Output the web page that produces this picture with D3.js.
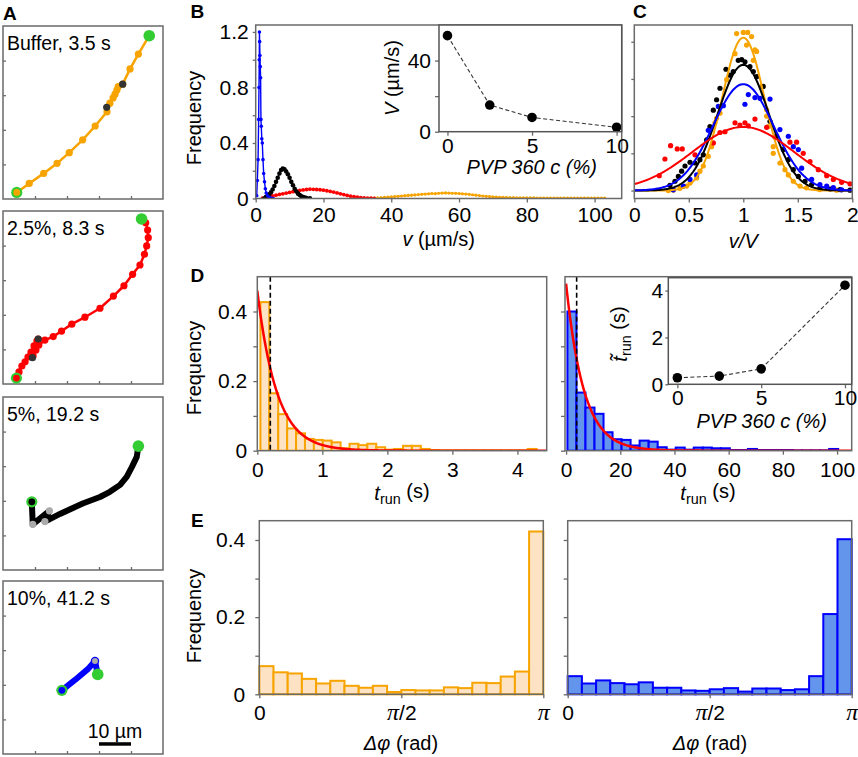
<!DOCTYPE html>
<html><head><meta charset="utf-8">
<script src="https://cdn.jsdelivr.net/npm/d3@7/dist/d3.min.js"></script>
<style>
html,body{margin:0;padding:0;background:#fff;}
svg text{font-family:"Liberation Sans",Arial,Helvetica,sans-serif;fill:#000;}
</style></head><body>
<svg id="fig" width="858" height="757" xmlns="http://www.w3.org/2000/svg"></svg>
<script>
// ================= DATA =================
// Panel A: trajectories (µm)
const trajLabels = ["Buffer, 3.5 s", "2.5%, 8.3 s", "5%, 19.2 s", "10%, 41.2 s"];
const trajBuffer = [[4.3,1.9],[8.2,4.5],[12.7,7.4],[16.9,10.3],[20.7,13.4],[24.9,17.1],[28.8,21.1],[32.5,25.2],[33.4,27.7],[34.4,29.2],[35.0,30.3],[35.6,31.5],[36.0,32.5],[37.4,33.2],[39.7,37.6],[42.3,41.9],[45.7,47.2]];
const markBuffer = [[32.4,26.5],[37.4,33.2]];
const traj25 = [[4.2,1.7],[5.0,3.5],[5.9,5.2],[6.9,6.4],[7.8,7.8],[8.75,9.2],[9.7,11.0],[10.6,12.4],[11.0,13.0],[10.2,10.8],[9.4,8.1],[10.3,9.8],[11.2,11.3],[13.1,12.7],[15.7,13.7],[18.3,15.3],[21.5,17.3],[25.6,19.3],[30.3,21.9],[34.5,25.4],[37.8,28.4],[40.5,31.7],[42.8,34.4],[44.2,37.5],[44.9,39.9],[45.4,42.3],[45.2,44.5],[44.6,46.6],[43.3,47.7]];
const mark25 = [[11.0,13.0],[9.2,7.6]];
const traj5 = [[9.0,19.7],[9.3,13.2],[14.5,17.1],[13.1,14.0],[17.8,16.2],[21.5,17.8],[25.1,19.3],[30.3,21.1],[33.4,22.6],[36.6,24.6],[38.7,27.0],[40.3,29.8],[41.8,32.7],[42.3,35.8]];
const mark5 = [[9.3,13.2],[14.5,17.1],[13.1,14.0]];
const traj10 = [[18.4,18.4],[22.5,21.4],[26.6,24.6],[28.75,26.9],[29.6,23.0]];
const mark10 = [[28.75,26.9]];
const aTicks = [10,20,30,40];
const scaleBarUm = [30,40];

// Panel B: speed distributions [v (µm/s), frequency]
const bBlue = [[0.3,0.02],[0.48,0.13],[0.7,0.28],[0.87,0.57],[0.97,0.80],[1.05,1.0],[1.1,1.2],[1.17,1.13],[1.25,1.03],[1.35,0.95],[1.45,0.87],[1.55,0.57],[1.65,0.52],[1.8,0.43],[1.95,0.40],[2.15,0.28],[2.35,0.18],[2.6,0.12],[2.85,0.07],[3.1,0.04],[3.5,0.02],[4.0,0.008],[4.6,0.003],[5.2,0]];
const bBlack = [[2.5,0],[3,0.01],[3.5,0.02],[4,0.03],[4.5,0.045],[5,0.065],[5.5,0.09],[6,0.12],[6.5,0.15],[7,0.18],[7.5,0.205],[8,0.215],[8.5,0.21],[9,0.195],[9.5,0.175],[10,0.15],[10.5,0.12],[11,0.095],[11.5,0.07],[12,0.05],[12.5,0.035],[13,0.025],[13.5,0.015],[14,0.01],[14.5,0.006],[15,0.003],[16,0.001]];
const bRed = [[2,0.002],[3,0.006],[4,0.012],[5,0.018],[6,0.024],[7,0.029],[8,0.034],[9,0.039],[10,0.044],[11,0.049],[12,0.054],[13,0.058],[14,0.062],[15,0.065],[16,0.067],[17,0.066],[18,0.065],[19,0.063],[20,0.06],[21,0.056],[22,0.051],[23,0.046],[24,0.04],[25,0.034],[26,0.028],[27,0.022],[28,0.017],[29,0.013],[30,0.009],[31,0.006],[32,0.004],[33,0.003],[34,0.002],[35,0.001]];
const bOrange = [[34,.002],[35,.003],[36,.004],[37,.006],[38,.008],[39,.010],[40,.012],[41,.014],[42,.016],[43,.018],[44,.020],[45,.022],[46,.024],[47,.026],[48,.028],[49,.030],[50,.032],[51,.034],[52,.036],[53,.035],[54,.038],[55,.039],[56,.040],[57,.039],[58,.038],[59,.037],[60,.036],[61,.034],[62,.032],[63,.030],[64,.027],[65,.024],[66,.021],[67,.018],[68,.016],[69,.014],[70,.012],[71,.010],[72,.009],[73,.008],[74,.007],[75,.006],[76,.006],[77,.005],[78,.005],[79,.004],[80,.004],[81,.004],[82,.004],[83,.003],[84,.003],[85,.003],[86,.003],[87,.003],[88,.003],[89,.002],[90,.002],[91,.002],[92,.002],[93,.002],[94,.002],[95,.002],[96,.002],[97,.002],[98,.002],[99,.002],[100,.002],[101,.002],[102,.002],[103,.002]];
const bXTicks = [0,20,40,60,80,100];
const bYTicks = [0,0.2,0.4,0.6,0.8,1.0,1.2];
const bYLabels = [0,0.4,0.8,1.2];
// Panel B inset
const pvp = [0,2.5,5,10];
const meanSpeed = [54,15,8,2.5];

// Panel C: normalized v/V distributions
const cNames = ["orange","black","blue","red"];
const cPeak = [2.055,1.69,1.43,0.855];
const cSigma = [0.194,0.236,0.279,0.467];
const cOrange = [[0.312,0],[0.358,0.005],[0.419,0.03],[0.48,0.06],[0.511,0.10],[0.572,0.17],[0.602,0.26],[0.633,0.33],[0.679,0.46],[0.709,0.59],[0.740,0.91],[0.755,0.97],[0.786,1.04],[0.847,1.49],[0.924,1.84],[0.939,2.11],[1.0,2.125],[1.04,2.125],[1.076,2.07],[1.03,1.955],[1.107,1.89],[1.122,1.87],[1.092,1.75],[1.168,1.40],[1.214,1.085],[1.214,1.0],[1.229,0.86],[1.275,0.59],[1.275,0.50],[1.336,0.37],[1.382,0.28],[1.413,0.21],[1.459,0.125],[1.52,0.06],[1.58,0.036],[1.70,0.013],[1.856,0.005]];
const cBlack = [[0.327,0.07],[0.373,0.125],[0.404,0.19],[0.434,0.26],[0.465,0.33],[0.511,0.38],[0.557,0.37],[0.602,0.415],[0.633,0.48],[0.664,0.68],[0.694,0.86],[0.725,1.08],[0.755,1.22],[0.786,1.375],[0.841,1.63],[0.878,1.55],[0.908,1.60],[0.954,1.75],[0.985,1.76],[1.015,1.73],[1.061,1.665],[1.092,1.60],[1.122,1.53],[1.183,1.40],[1.245,0.93],[1.306,0.73],[1.367,0.55],[1.413,0.415],[1.459,0.28],[1.505,0.19],[1.566,0.125],[1.627,0.08],[1.703,0.036],[1.795,0.02],[1.887,0.013],[1.979,0.005]];
const cBlue = [[0.358,0.01],[0.45,0.06],[0.511,0.15],[0.572,0.21],[0.679,0.81],[0.771,1.13],[0.817,1.14],[1.015,1.16],[1.046,1.29],[1.107,1.25],[1.153,1.24],[1.245,1.23],[1.336,0.82],[1.413,0.73],[1.459,0.59],[1.505,0.55],[1.535,0.30],[1.627,0.15],[1.703,0.08],[1.765,0.06],[1.826,0.04],[1.902,0.01]];
const cRed = [[0.229,0.20],[0.281,0.424],[0.333,0.603],[0.394,0.56],[0.44,0.56],[0.557,0.48],[0.725,0.64],[0.786,0.78],[0.832,0.79],[0.924,0.91],[0.969,0.88],[1.015,0.91],[1.046,0.87],[1.107,0.96],[1.214,0.85],[1.291,0.72],[1.428,0.65],[1.489,0.65],[1.55,0.50],[1.612,0.39],[1.688,0.28],[1.765,0.20],[1.826,0.15],[1.902,0.11],[1.979,0.09]];
const cXTicks = [0,0.5,1,1.5,2];
const cXLabels = ["0","0.5","1","1.5","2"];

// Panel D: run-time histograms
const dLeftStart = 0.048, dLeftWidth = 0.137;
const dLeft = [0.427,0.165,0.105,0.064,0.050,0.034,0.031,0.029,0.024,0.007,0.020,0.016,0.020,0.010,0.003,0.005,0.014,0.014,0.005,0.002,0.001,0.001,0.001,0.001,0.001,0.001,0.001,0.001,0.001,0.001,0.005];
const dRightStart = 0.5, dRightWidth = 3.33;
const dRight = [0.40,0.167,0.124,0.106,0.053,0.033,0.031,0.015,0.029,0.026,0.010,0.003,0.009,0.003,0.009,0.009,0.007,0.007,0.002,0.002,0.005,0.002,0.002,0.002,0.002,0.001,0.001,0.001,0.001,0.005];
const dFitAmp = [0.46,0.48];
const dFitTau = [0.30,6.5];
const dMedian = [0.2,3.9];
const dLeftXTicks = [0,1,2,3,4];
const dRightXTicks = [0,20,40,60,80,100];
const dYTicks = [0,0.1,0.2,0.3,0.4];
const dYLabels = [0,0.2,0.4];
// Panel D inset
const medianRun = [0.28,0.35,0.66,4.23];

// Panel E: turning-angle histograms (20 bins on [0, π])
const eLeft = [0.073,0.057,0.054,0.040,0.028,0.035,0.022,0.017,0.022,0.006,0.011,0.010,0.010,0.018,0.016,0.030,0.029,0.046,0.059,0.422];
const eRight = [0.047,0.028,0.036,0.029,0.026,0.031,0.017,0.017,0.010,0.009,0.013,0.016,0.007,0.015,0.015,0.011,0.013,0.047,0.208,0.402];
const eXTicks = [0, Math.PI/2, Math.PI];
const eXLabels = ["0","π/2","π"];
const eYTicks = [0,0.1,0.2,0.3,0.4];
const eYLabels = [0,0.2,0.4];

// ================= STYLE =================
const FONT = '"Liberation Sans", Arial, Helvetica, sans-serif';
const FR = "#6a6a6a";
const ORANGE = "#F7A400", RED = "#FF0000", BLUE = "#0000FF", GREEN = "#33CC33";
const FS = 20;      // axis titles
const TFS = 21;     // tick labels
const svg = d3.select("#fig");
const defs = svg.append("defs");

function frame(x0,y0,x1,y1,opt){
  opt = opt||{};
  svg.append("rect").attr("x",x0).attr("y",y0).attr("width",x1-x0).attr("height",y1-y0)
    .attr("fill",opt.fill||"none").attr("stroke",opt.stroke||FR).attr("stroke-width",opt.sw||1.5);
}
function clip(id,x0,y0,x1,y1){
  defs.append("clipPath").attr("id",id).append("rect").attr("x",x0).attr("y",y0).attr("width",x1-x0).attr("height",y1-y0);
  return svg.append("g").attr("clip-path",`url(#${id})`);
}
function axis(type, scale, pos, values, labelVals, labelTexts, opt){
  const o = Object.assign({size:4, pad:5, fs:TFS}, opt||{});
  const ax = (type==="left"? d3.axisLeft(scale) : d3.axisBottom(scale))
    .tickValues(values).tickSize(o.size).tickPadding(o.pad)
    .tickFormat(d => { const i = labelVals.indexOf(d); return i<0 ? "" : (labelTexts? labelTexts[i] : String(d)); });
  const a = svg.append("g").attr("transform", type==="left"? `translate(${pos},0)` : `translate(0,${pos})`).call(ax);
  a.attr("font-size",null).attr("font-family",null);
  a.select(".domain").remove();
  a.selectAll(".tick line").attr("stroke",FR).attr("stroke-width",1.3);
  a.selectAll(".tick text").attr("font-size",o.fs).attr("font-family",FONT).attr("fill","#000");
  return a;
}
function rich(x,y,parts,opt){
  opt = opt||{};
  const fs = opt.fs||FS;
  const t = svg.append("text").attr("font-size",fs).attr("text-anchor",opt.anchor||"middle");
  if(opt.rotate) t.attr("transform",`translate(${x},${y}) rotate(-90)`);
  else t.attr("x",x).attr("y",y);
  parts.forEach(p=>{
    const s = t.append("tspan").text(p.t);
    if(p.it) s.attr("font-style","italic");
    if(p.sub) s.attr("font-size",fs*0.72).attr("dy","0.3em");
    if(p.back) s.attr("dy","-0.3em");
  });
  return t;
}
function letter(x,y,s){ svg.append("text").attr("x",x).attr("y",y).attr("font-size",19).attr("font-weight","bold").text(s); }

// ================= PANEL A =================
letter(3,20,"A");
const aTops = [26,211,397,581], aH = 173;
const trajs = [trajBuffer, traj25, traj5, traj10];
const marks = [markBuffer, mark25, mark5, mark10];
const trajColor = [ORANGE, RED, "#000", BLUE];
const trajW = [2.5, 2.5, 6, 6];
trajs.forEach((tr,k)=>{
  const top = aTops[k];
  const ax = d3.scaleLinear([0,50],[3,163]);
  const ay = d3.scaleLinear([0,50],[top+aH, top]);
  frame(3,top,163,top+aH);
  axis("left", ay, 3, aTicks, [], null, {size:-3});
  axis("bottom", ax, top+aH, aTicks, [], null, {size:-3});
  const g = clip("clipA"+k, 3, top, 163, top+aH);
  g.append("path").datum(tr).attr("d", d3.line().x(d=>ax(d[0])).y(d=>ay(d[1])))
    .attr("fill","none").attr("stroke",trajColor[k]).attr("stroke-width",trajW[k])
    .attr("stroke-linejoin","round").attr("stroke-linecap","round");
  if(k<2){
    g.selectAll(null).data(tr.slice(1,-1)).enter().append("circle")
      .attr("cx",d=>ax(d[0])).attr("cy",d=>ay(d[1])).attr("r",3.6).attr("fill",trajColor[k]);
  }
  g.selectAll(null).data(marks[k]).enter().append("circle")
    .attr("cx",d=>ax(d[0])).attr("cy",d=>ay(d[1])).attr("r",3.6)
    .attr("fill", k<2 ? "#333" : "#aaa")
    .attr("stroke", k===3 ? BLUE : "none").attr("stroke-width",1.2);
  const s = tr[0], e = tr[tr.length-1];
  g.append("circle").attr("cx",ax(s[0])).attr("cy",ay(s[1])).attr("r",5.6).attr("fill",GREEN);
  g.append("circle").attr("cx",ax(s[0])).attr("cy",ay(s[1])).attr("r",3.4).attr("fill",trajColor[k]);
  g.append("circle").attr("cx",ax(e[0])).attr("cy",ay(e[1])).attr("r",5.8).attr("fill",GREEN);
  svg.append("text").attr("x",7).attr("y",top+24).attr("font-size",19.5).text(trajLabels[k]);
  if(k===3){
    svg.append("line").attr("x1",ax(scaleBarUm[0])).attr("x2",ax(scaleBarUm[1]))
      .attr("y1",ay(2.9)).attr("y2",ay(2.9)).attr("stroke","#000").attr("stroke-width",3.5);
    svg.append("text").attr("x",ax((scaleBarUm[0]+scaleBarUm[1])/2)).attr("y",ay(2.9)-6)
      .attr("text-anchor","middle").attr("font-size",19.5).text("10 µm");
  }
});

// ================= PANEL B =================
letter(190.5,18,"B");
const bx = d3.scaleLinear([0,108],[255.7,621.7]);
const by = d3.scaleLinear([0,1.25],[198.5,25]);
axis("left", by, 255.7, bYTicks, bYLabels, null, {size:3, pad:4});
axis("bottom", bx, 198.5, bXTicks, bXTicks, null, {size:4, pad:5});
const gB = clip("clipB",255.7,25,621.7,198.5);
[[bOrange,ORANGE,1.6],[bRed,RED,1.9],[bBlack,"#000",2.3],[bBlue,BLUE,1.8]].forEach(([ser,col,r])=>{
  gB.append("path").datum(ser).attr("d",d3.line().x(d=>bx(d[0])).y(d=>by(d[1])))
    .attr("fill","none").attr("stroke",col).attr("stroke-width",1.4);
  gB.selectAll(null).data(ser).enter().append("circle")
    .attr("cx",d=>bx(d[0])).attr("cy",d=>by(d[1])).attr("r",r).attr("fill",col);
});
frame(255.7,25,621.7,198.5);
rich(201,118,[{t:"Frequency"}],{rotate:true});
rich(438.7,246,[{t:"v",it:true},{t:" (µm/s)"}]);
// inset B
const ibx = d3.scaleLinear([-0.5,10.3],[439,621.7]);
const iby = d3.scaleLinear([0,60],[131.7,25]);
svg.append("rect").attr("x",439).attr("y",25).attr("width",182.7).attr("height",106.7).attr("fill","#fff");
axis("left", iby, 439, [0,20,40], [0,40], null, {size:4, pad:4});
axis("bottom", ibx, 131.7, [0,5,10], [0,5,10], null, {size:4, pad:2});
const insB = pvp.map((p,i)=>[p,meanSpeed[i]]);
svg.append("path").datum(insB).attr("d",d3.line().x(d=>ibx(d[0])).y(d=>iby(d[1])))
  .attr("fill","none").attr("stroke","#333").attr("stroke-width",1.1).attr("stroke-dasharray","4,2.5");
svg.selectAll(null).data(insB).enter().append("circle")
  .attr("cx",d=>ibx(d[0])).attr("cy",d=>iby(d[1])).attr("r",4.8).attr("fill","#000");
frame(439,25,621.7,131.7,{stroke:"#555"});
rich(399,78,[{t:"V",it:true},{t:" (µm/s)"}],{rotate:true});
rich(531.7,174,[{t:"PVP 360 c (%)",it:true}]);

// ================= PANEL C =================
letter(633,18,"C");
const cx = d3.scaleLinear([0,2],[634.3,852.3]);
const cy = d3.scaleLinear([-0.107,2.225],[198.5,25]);
axis("left", cy, 634.3, [0,0.5,1,1.5,2], [], null, {size:3});
axis("bottom", cx, 198.5, cXTicks, cXTicks, cXLabels, {size:4, pad:5});
const gC = clip("clipC",634.3,25,852.3,198.5);
const cCol = [ORANGE,"#000",BLUE,RED];
const cPts = [cOrange,cBlack,cBlue,cRed];
cPts.forEach((ser,i)=>{
  gC.selectAll(null).data(ser).enter().append("circle")
    .attr("cx",d=>cx(d[0])).attr("cy",d=>cy(d[1])).attr("r",2.6).attr("fill",cCol[i]);
});
const xsC = d3.range(0,2.0001,0.01);
cNames.forEach((n,i)=>{
  gC.append("path").datum(xsC).attr("d",d3.line().x(v=>cx(v)).y(v=>cy(cPeak[i]*Math.exp(-((v-1)*(v-1))/(2*cSigma[i]*cSigma[i])))))
    .attr("fill","none").attr("stroke",cCol[i]).attr("stroke-width",2);
});
frame(634.3,25,852.3,198.5);
rich(743.3,248,[{t:"v/V",it:true}]);

// ================= PANEL D =================
letter(190.5,282,"D");
const dTop = 276.7, dBot = 450.7;
const dy = d3.scaleLinear([0,0.5],[dBot,dTop]);
function histD(xs, x0, x1, start, width, heights, stroke, fill, fitIdx, id){
  const g = clip(id, x0, dTop, x1, dBot);
  g.selectAll(null).data(heights).enter().append("rect")
    .attr("x",(d,i)=>xs(start+i*width)).attr("width",(d,i)=>xs(start+(i+1)*width)-xs(start+i*width))
    .attr("y",d=>dy(d)).attr("height",d=>dBot-dy(d))
    .attr("fill",fill).attr("stroke",stroke).attr("stroke-width",2);
  const tmax = xs.domain()[1];
  g.append("path").datum(d3.range(0,tmax,tmax/400))
    .attr("d",d3.line().x(t=>xs(t)).y(t=>dy(dFitAmp[fitIdx]*Math.exp(-t/dFitTau[fitIdx]))))
    .attr("fill","none").attr("stroke",RED).attr("stroke-width",2.5);
  g.append("line").attr("x1",xs(dMedian[fitIdx])).attr("x2",xs(dMedian[fitIdx]))
    .attr("y1",dTop).attr("y2",dBot).attr("stroke","#000").attr("stroke-width",1.6).attr("stroke-dasharray","5,3");
}
const dlx = d3.scaleLinear([0,4.45],[257.3,546.7]);
histD(dlx,257.3,546.7,dLeftStart,dLeftWidth,dLeft,ORANGE,"#FDE3C3",0,"clipDL");
axis("left", dy, 257.3, dYTicks, dYLabels, null, {size:4, pad:6});
axis("bottom", dlx, dBot, dLeftXTicks, dLeftXTicks, null, {size:4, pad:7});
frame(257.3,dTop,546.7,dBot);
rich(201,368,[{t:"Frequency"}],{rotate:true});
rich(402,500,[{t:"t",it:true},{t:"run",sub:true},{t:" (s)",back:true}]);

const drx = d3.scaleLinear([-0.4,105.4],[565,851.7]);
histD(drx,565,851.7,dRightStart,dRightWidth,dRight,BLUE,"#6495ED",1,"clipDR");
axis("left", dy, 565, dYTicks, [], null, {size:4});
axis("bottom", drx, dBot, dRightXTicks, dRightXTicks, null, {size:4, pad:7});
frame(565,dTop,851.7,dBot);
rich(708,500,[{t:"t",it:true},{t:"run",sub:true},{t:" (s)",back:true}]);
// inset D
const idx = d3.scaleLinear([-0.54,10.4],[668.3,851.7]);
const idy = d3.scaleLinear([0,4.55],[384.3,277.7]);
svg.append("rect").attr("x",668.3).attr("y",277.7).attr("width",183.4).attr("height",106.6).attr("fill","#fff");
axis("left", idy, 668.3, [0,2,4], [0,2,4], null, {size:3, pad:2});
axis("bottom", idx, 384.3, [0,5,10], [0,5,10], null, {size:4, pad:2});
const insD = pvp.map((p,i)=>[p,medianRun[i]]);
svg.append("path").datum(insD).attr("d",d3.line().x(d=>idx(d[0])).y(d=>idy(d[1])))
  .attr("fill","none").attr("stroke","#333").attr("stroke-width",1.1).attr("stroke-dasharray","4,2.5");
svg.selectAll(null).data(insD).enter().append("circle")
  .attr("cx",d=>idx(d[0])).attr("cy",d=>idy(d[1])).attr("r",4.8).attr("fill","#000");
frame(668.3,277.7,851.7,384.3,{stroke:"#555"});
rich(627,334,[{t:"t\u0303",it:true},{t:"run",sub:true},{t:" (s)",back:true}],{rotate:true});
rich(761.7,428,[{t:"PVP 360 c (%)",it:true}]);

// ================= PANEL E =================
letter(191,527,"E");
const eTop = 520.7, eBot = 694.3;
const ey = d3.scaleLinear([0,0.45],[eBot,eTop]);
function histE(xs, heights, stroke, fill){
  const w = Math.PI/heights.length;
  svg.append("g").selectAll("rect").data(heights).enter().append("rect")
    .attr("x",(d,i)=>xs(i*w)).attr("width",(d,i)=>xs((i+1)*w)-xs(i*w))
    .attr("y",d=>ey(d)).attr("height",d=>eBot-ey(d))
    .attr("fill",fill).attr("stroke",stroke).attr("stroke-width",2);
}
function piLabels(a){
  a.selectAll(".tick text").each(function(){
    const s = d3.select(this).text();
    if(s.indexOf("π")<0) return;
    d3.select(this).text("");
    d3.select(this).append("tspan").attr("font-family",'"Liberation Serif","DejaVu Serif",serif').attr("font-style","italic").attr("font-size",24).text("π");
    if(s.length>1) d3.select(this).append("tspan").text(s.slice(1));
  });
}
const elx = d3.scaleLinear([0,Math.PI],[259.3,543.3]);
histE(elx, eLeft, ORANGE, "#FDE3C3");
axis("left", ey, 259.3, eYTicks, eYLabels, null, {size:4, pad:10});
piLabels(axis("bottom", elx, eBot, eXTicks, eXTicks, eXLabels, {size:4, pad:7}));
frame(259.3,eTop,543.3,eBot);
rich(201,616,[{t:"Frequency"}],{rotate:true});
rich(401,750,[{t:"Δφ",it:true},{t:" (rad)"}]);

const erx = d3.scaleLinear([0,Math.PI],[567.7,851.7]);
histE(erx, eRight, BLUE, "#6495ED");
axis("left", ey, 567.7, eYTicks, [], null, {size:4});
piLabels(axis("bottom", erx, eBot, eXTicks, eXTicks, eXLabels, {size:4, pad:7}));
frame(567.7,eTop,851.7,eBot);
rich(710,750,[{t:"Δφ",it:true},{t:" (rad)"}]);
</script></body></html>
